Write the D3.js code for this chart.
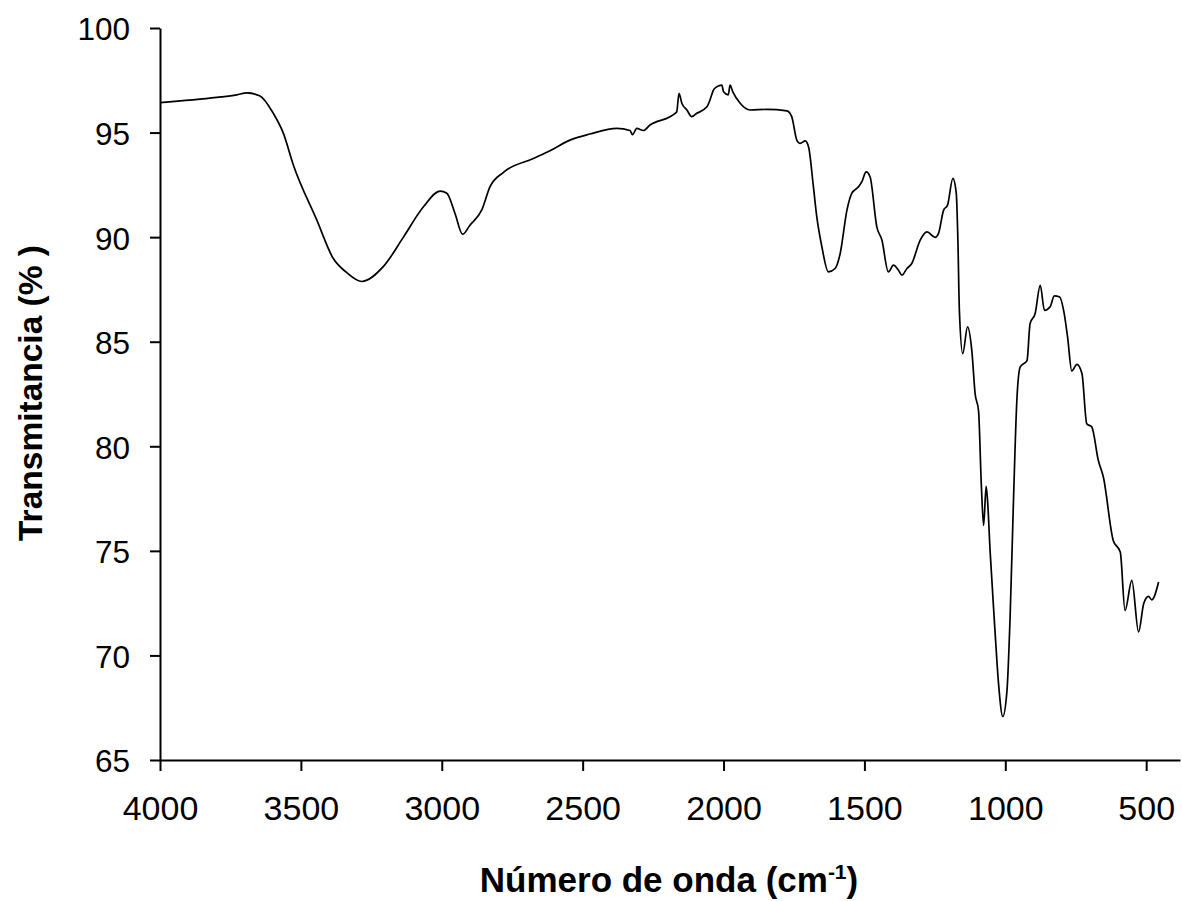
<!DOCTYPE html>
<html>
<head>
<meta charset="utf-8">
<script src="https://cdn.jsdelivr.net/npm/d3@7"></script>
<style>
  body { margin: 0; background: #fff; }
  text { font-family: "Liberation Sans", Arial, sans-serif; }
</style>
</head>
<body>
<script>
const wavenumber = [
  4000, 3799, 3728, 3692, 3645, 3598, 3562, 3528, 3443, 3386, 3337, 3284,
  3207, 3136, 3065, 3006, 2982, 2953, 2926, 2900, 2858, 2829, 2781, 2675,
  2616, 2545, 2474, 2379, 2332, 2323, 2308, 2284, 2261, 2190, 2172, 2166,
  2158, 2148, 2130, 2113, 2095, 2059, 2048, 2036, 2024, 2006, 2000, 1983,
  1977, 1967, 1941, 1906, 1846, 1775, 1758, 1740, 1728, 1710, 1698, 1681,
  1669, 1651, 1628, 1604, 1586, 1562, 1545, 1521, 1509, 1494, 1480, 1456,
  1438, 1415, 1397, 1379, 1367, 1349, 1332, 1302, 1278, 1249, 1237, 1219,
  1205, 1186, 1174, 1168, 1163, 1151, 1134, 1119, 1107, 1095, 1085, 1077,
  1068, 1063, 1054, 1036, 1024, 1009, 994, 983, 971, 959, 947, 923,
  912, 894, 876, 861, 841, 826, 807, 793, 779, 764, 746, 728,
  711, 693, 670, 652, 617, 592, 575, 551, 527, 509, 492, 480, 456
];
const transmittance = [
  96.43, 96.68, 96.8, 96.9, 96.75, 95.92, 94.96, 93.5, 90.8, 89.0, 88.3, 87.88,
  88.6, 90.0, 91.45, 92.2, 92.1, 91.13, 90.14, 90.57, 91.3, 92.4, 93.1, 93.76,
  94.13, 94.64, 94.93, 95.2, 95.1, 94.9, 95.2, 95.1, 95.36, 95.76, 95.92, 96.0,
  96.88, 96.4, 96.08, 95.76, 95.92, 96.23, 96.56, 97.03, 97.19, 97.27, 96.95, 96.8,
  97.27, 96.95, 96.4, 96.08, 96.11, 96.04, 95.76, 94.64, 94.48, 94.6, 94.3, 92.4,
  90.97, 89.54, 88.34, 88.5, 89.22, 91.29, 92.09, 92.41, 92.65, 93.12, 92.89, 90.49,
  89.86, 88.34, 88.66, 88.42, 88.18, 88.5, 88.74, 89.86, 90.25, 89.99, 90.18, 91.29,
  91.53, 92.81, 92.09, 89.7, 86.5, 84.43, 85.71, 84.6, 82.5, 81.7, 78.13, 76.22,
  78.09, 77.4, 75.0, 71.04, 68.65, 67.08, 68.33, 71.83, 77.4, 82.2, 83.8, 84.1,
  85.87, 86.35, 87.7, 86.5, 86.67, 87.19, 87.14, 86.5, 85.23, 83.6, 83.92, 83.48,
  81.08, 80.92, 79.33, 78.53, 75.5, 74.94, 72.15, 73.59, 71.12, 72.47, 72.82, 72.66, 73.51
];
const xTicks = [4000, 3500, 3000, 2500, 2000, 1500, 1000, 500];
const yTicks = [65, 70, 75, 80, 85, 90, 95, 100];

const width = 1182;
const height = 901;
const plot = { left: 160, right: 1180, top: 28, bottom: 760 };

const data = wavenumber.map((w, i) => ({ w, t: transmittance[i] }));

const x = d3.scaleLinear().domain([4000, 380]).range([plot.left, plot.right]);
const y = d3.scaleLinear().domain([65, 100]).range([plot.bottom, plot.top]);

const svg = d3.select("body").append("svg")
  .attr("width", width)
  .attr("height", height);

const xAxis = svg.append("g")
  .attr("transform", `translate(0,${plot.bottom})`)
  .call(
    d3.axisBottom(x)
      .tickValues(xTicks)
      .tickFormat(d3.format("d"))
      .tickSize(11)
      .tickSizeOuter(0)
  );

const yAxis = svg.append("g")
  .attr("transform", `translate(${plot.left},0)`)
  .call(
    d3.axisLeft(y)
      .tickValues(yTicks)
      .tickFormat(d3.format("d"))
      .tickSize(10)
      .tickPadding(20)
      .tickSizeOuter(0)
  );

[xAxis, yAxis].forEach((g) => {
  g.select(".domain").attr("stroke", "#000").attr("stroke-width", 2);
  g.selectAll(".tick line").attr("stroke", "#000").attr("stroke-width", 2);
  g.selectAll(".tick text")
    .attr("fill", "#000")
    .attr("font-family", "Liberation Sans, Arial, sans-serif");
});
xAxis.selectAll(".tick text").attr("font-size", 34).attr("y", 60).attr("dy", 0);
yAxis.selectAll(".tick text").attr("font-size", 31.5).attr("dy", "0.38em");

const line = d3.line()
  .x((d) => x(d.w))
  .y((d) => y(d.t))
  .curve(d3.curveMonotoneX);

svg.append("path")
  .datum(data)
  .attr("d", line)
  .attr("fill", "none")
  .attr("stroke", "#000")
  .attr("stroke-width", 1.7)
  .attr("stroke-linejoin", "round");

svg.append("text")
  .attr("transform", `translate(42,393) rotate(-90)`)
  .attr("text-anchor", "middle")
  .attr("font-size", 33.5)
  .attr("font-weight", "bold")
  .text("Transmitancia (% )");

const xTitle = svg.append("text")
  .attr("x", 669)
  .attr("y", 892)
  .attr("text-anchor", "middle")
  .attr("font-size", 35)
  .attr("font-weight", "bold");
xTitle.append("tspan").text("Número de onda (cm");
xTitle.append("tspan").attr("font-size", 21).attr("dy", -13).text("-1");
xTitle.append("tspan").attr("dy", 13).text(")");
</script>
</body>
</html>
